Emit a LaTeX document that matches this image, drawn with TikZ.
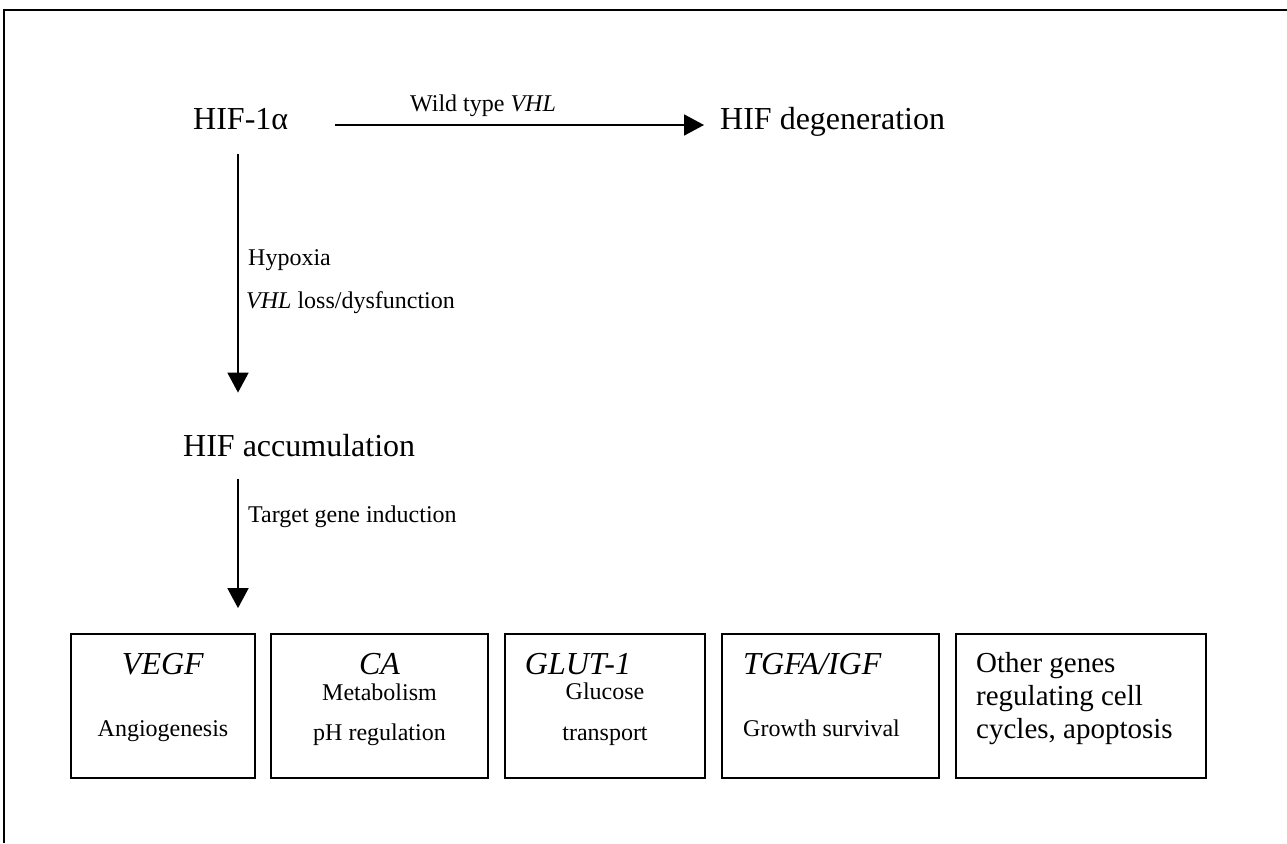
\documentclass[tikz,border=0pt]{standalone}
\usepackage{fontspec}
\setmainfont{Liberation Serif}
\usetikzlibrary{arrows.meta}
\newcommand{\bigtxt}{\fontsize{32}{36}\selectfont}
\newcommand{\smtxt}{\fontsize{24}{28}\selectfont}
\newcommand{\othtxt}{\fontsize{29}{33}\selectfont}

\begin{document}
\begin{tikzpicture}[x=1pt,y=-1pt,
  lbl/.style={inner sep=0pt,font=\bigtxt},
  sml/.style={inner sep=0pt,font=\smtxt},
  genebox/.style={draw,line width=1.8pt,minimum height=144pt,inner sep=0pt},
  arr/.style={line width=1.8pt,-{Triangle[length=20pt,width=21pt]}}]
\useasboundingbox (0,0) rectangle (1287,843);
\draw[line width=1.8pt] (4,843) -- (4,10) -- (1287,10);
\node[lbl,anchor=base west] (hif) at (193,129) {HIF-1α};
\node[lbl,anchor=base west] (deg) at (720,129) {HIF degeneration};
\node[lbl,anchor=base west] (acc) at (183,456) {HIF accumulation};
\coordinate (spine) at (238,0);
\node[sml,anchor=base west] (wt) at (410,111) {Wild type \textit{VHL}};
\node[sml,anchor=base west] (hyp) at (248,265) {Hypoxia};
\node[sml,anchor=base west] (loss) at (246,308) {\textit{VHL} loss/dysfunction};
\node[sml,anchor=base west] (tgi) at (248,522) {Target gene induction};
\foreach \n/\cx/\w in {vegf/163/184,ca/379.5/217,glut/605/200,tgfa/830.5/217,oth/1081/250}
  \node[genebox,minimum width=\w pt] (\n) at (\cx,706) {};
\node[lbl,anchor=base] (vegft) at (163,674) {\textit{VEGF}};
\node[sml,anchor=base] (angio) at (163,736) {Angiogenesis};
\node[lbl,anchor=base] (cat) at (379.5,674) {\textit{CA}};
\node[sml,anchor=base] (meta) at (379.5,700) {Metabolism};
\node[sml,anchor=base] (ph) at (379.5,740) {pH regulation};
\node[lbl,anchor=base] (glutt) at (578,674) {\textit{GLUT-1}};
\node[sml,anchor=base] (gluc) at (605,699) {Glucose};
\node[sml,anchor=base] (trans) at (605,740) {transport};
\node[lbl,anchor=base west] (tgfat) at (743,674) {\textit{TGFA/IGF}};
\node[sml,anchor=base west] (grow) at (743,736) {Growth survival};
\node[inner sep=0pt,font=\othtxt,align=left,anchor=north west] (otht) at (976,652)
  {Other genes\\regulating cell\\cycles, apoptosis};
\draw[arr,shorten <=47pt,shorten >=16pt] ([yshift=4pt]hif.base east) -- ([yshift=4pt]deg.base west);
\draw[arr,shorten <=24pt,shorten >=41pt] (hif.south -| spine) -- (acc.north -| spine);
\draw[arr,shorten <=22pt,shorten >=25pt] (acc.south -| spine) -- (vegf.north -| spine);
\end{tikzpicture}
\end{document}
